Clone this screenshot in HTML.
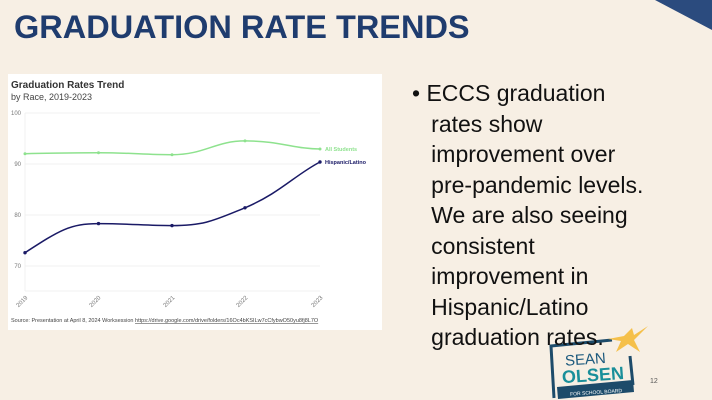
<!DOCTYPE html>
<html><head><style>
body{margin:0;width:712px;height:400px;background:#f7efe4;position:relative;overflow:hidden;font-family:"Liberation Sans",sans-serif}
.t{position:absolute;left:14px;top:9px;font-size:32.5px;font-weight:bold;color:#1f3c6e;letter-spacing:0px}
.b{position:absolute;left:412px;top:78px;font-size:23px;line-height:30.5px;color:#111;width:295px}
</style></head><body>
<svg style="position:absolute;left:0;top:0" width="712" height="400">
<polygon points="655,0 712,0 712,30" fill="#2b4b7e"/>
<rect x="8" y="74" width="374" height="256" fill="#fff"/>
<text x="11" y="88" font-size="10" font-weight="bold" fill="#333" font-family="Liberation Sans">Graduation Rates Trend</text>
<text x="11" y="100" font-size="9" fill="#444" font-family="Liberation Sans">by Race, 2019-2023</text>
<g stroke="#eee" stroke-width="0.8">
<line x1="25" y1="113" x2="320" y2="113"/><line x1="25" y1="164" x2="320" y2="164"/>
<line x1="25" y1="215" x2="320" y2="215"/><line x1="25" y1="266" x2="320" y2="266"/>
<line x1="25" y1="291" x2="320" y2="291"/><line x1="25" y1="113" x2="25" y2="291"/>
</g>
<g font-size="6" fill="#777" font-family="Liberation Sans" text-anchor="end">
<text x="21" y="115">100</text><text x="21" y="166">90</text><text x="21" y="217">80</text><text x="21" y="268">70</text>
</g>
<g font-size="6" fill="#777" font-family="Liberation Sans" text-anchor="end">
<text transform="translate(28,298) rotate(-45)">2019</text>
<text transform="translate(101,298) rotate(-45)">2020</text>
<text transform="translate(175,298) rotate(-45)">2021</text>
<text transform="translate(248,298) rotate(-45)">2022</text>
<text transform="translate(323,298) rotate(-45)">2023</text>
</g>
<path d="M25,153.7 C60,153.2 70,152.7 98.5,152.7 C130,152.7 145,154.7 172,154.7 C205,154.7 215,140.9 245,140.9 C280,140.9 295,149 320,149" fill="none" stroke="#8ee28e" stroke-width="1.5"/>
<path d="M25,252.7 C60,230 70,223.6 98.5,223.6 C130,223.6 145,225.6 172,225.6 C205,225.6 215,220 245,207.8 C280,193 295,175 320,162" fill="none" stroke="#1a1a66" stroke-width="1.5"/>
<g fill="#8ee28e"><circle cx="25" cy="153.7" r="1.5"/><circle cx="98.5" cy="152.7" r="1.5"/><circle cx="172" cy="154.7" r="1.5"/><circle cx="245" cy="140.9" r="1.5"/><circle cx="320" cy="149" r="1.5"/></g>
<g fill="#1a1a66"><circle cx="25" cy="252.7" r="1.7"/><circle cx="98.5" cy="223.6" r="1.7"/><circle cx="172" cy="225.6" r="1.7"/><circle cx="245" cy="207.8" r="1.7"/><circle cx="320" cy="162" r="1.7"/></g>
<text x="325" y="151" font-size="5.5" font-weight="bold" fill="#8ee28e" font-family="Liberation Sans">All Students</text>
<text x="325" y="164" font-size="5.5" font-weight="bold" fill="#1a1a66" font-family="Liberation Sans">Hispanic/Latino</text>
<text x="11" y="322" font-size="5.5" fill="#444" font-family="Liberation Sans">Source: Presentation at April 8, 2024 Worksession <tspan text-decoration="underline">https://drive.google.com/drive/folders/16Oc4bKSILw7cCfybwO50yu8fj8L7O</tspan></text>
<polyline points="612,340 551,346 554,398" fill="none" stroke="#1d4b6a" stroke-width="3"/>
<line x1="630" y1="356" x2="633" y2="385" stroke="#1d4b6a" stroke-width="3"/>
<polygon points="557,387 633,380 634,392 558,399" fill="#1d4b6a"/>
<polygon points="648,326 634,340 640,352 628,344 616,352 621,341 608,339 624,336 632,328 634,335" fill="#f5c04a"/>
<text x="565" y="364" font-size="15" fill="#1d5a7e" font-family="Liberation Sans" transform="rotate(-4 590 360)">SEAN</text>
<text x="562" y="381" font-size="18" font-weight="bold" fill="#1a8f9a" font-family="Liberation Sans" transform="rotate(-4 595 376)">OLSEN</text>
<text x="570" y="394" font-size="5" fill="#fff" font-family="Liberation Sans" transform="rotate(-4 595 392)">FOR SCHOOL BOARD</text>
<text x="650" y="383" font-size="7" fill="#555" font-family="Liberation Sans">12</text>
</svg>
<div class="t">GRADUATION RATE TRENDS</div>
<div class="b">• ECCS graduation<br>&nbsp;&nbsp; rates show<br>&nbsp;&nbsp; improvement over<br>&nbsp;&nbsp; pre-pandemic levels.<br>&nbsp;&nbsp; We are also seeing<br>&nbsp;&nbsp; consistent<br>&nbsp;&nbsp; improvement in<br>&nbsp;&nbsp; Hispanic/Latino<br>&nbsp;&nbsp; graduation rates.</div>
</body></html>
